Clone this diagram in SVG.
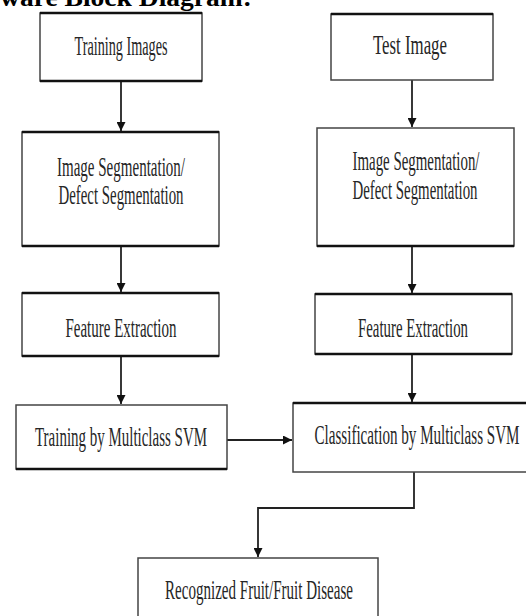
<svg xmlns="http://www.w3.org/2000/svg" width="526" height="616" viewBox="0 0 526 616">
<defs>
<style>
.box{fill:#fff;stroke:#444;stroke-width:1.5}
.edge{stroke:#111;stroke-width:2.5}
.conn{fill:none;stroke:#222;stroke-width:1.8}
</style>
<marker id="ah" viewBox="0 0 10 10" refX="10" refY="5" markerWidth="5" markerHeight="5" markerUnits="strokeWidth" orient="auto">
<path d="M0,0 L10,5 L0,10 Z" fill="#111"/>
</marker>
</defs>
<rect width="526" height="616" fill="#fff"/>
<text x="0" y="6" font-family="Liberation Serif, serif" font-size="26" font-weight="bold" fill="#000" textLength="252" lengthAdjust="spacingAndGlyphs">ware Block Diagram:</text>

<g id="connectors">
<line class="conn" x1="121" y1="81" x2="121" y2="131" marker-end="url(#ah)"/>
<line class="conn" x1="121" y1="246" x2="121" y2="292" marker-end="url(#ah)"/>
<line class="conn" x1="121" y1="356" x2="121" y2="404" marker-end="url(#ah)"/>
<line class="conn" x1="412" y1="80" x2="412" y2="127" marker-end="url(#ah)"/>
<line class="conn" x1="412" y1="246" x2="412" y2="293" marker-end="url(#ah)"/>
<line class="conn" x1="412" y1="354" x2="412" y2="402" marker-end="url(#ah)"/>
<line class="conn" x1="227" y1="440" x2="292" y2="440" stroke-width="2.5" marker-end="url(#ah)"/>
<polyline class="conn" points="414,472 414,508 258,508 258,557" marker-end="url(#ah)"/>
</g>

<g font-family="Liberation Serif, serif" font-size="28" fill="#262626" text-anchor="middle">
<g id="training-images">
<rect class="box" x="40" y="13" width="162" height="68"/>
<line class="edge" x1="40" y1="13" x2="202" y2="13"/><line class="edge" x1="40" y1="81" x2="202" y2="81"/>
<text x="121" y="55" textLength="93" lengthAdjust="spacingAndGlyphs">Training Images</text>
</g>
<g id="test-image">
<rect class="box" x="331" y="14" width="162" height="66"/>
<line class="edge" x1="331" y1="14" x2="493" y2="14"/>
<text x="410" y="54" textLength="74" lengthAdjust="spacingAndGlyphs">Test Image</text>
</g>

<g id="seg-left">
<rect class="box" x="22" y="132" width="197" height="114"/>
<line class="edge" x1="22" y1="132" x2="219" y2="132"/><line class="edge" x1="22" y1="246" x2="219" y2="246"/>
<text x="121" y="176" textLength="128" lengthAdjust="spacingAndGlyphs">Image Segmentation/</text>
<text x="121" y="204" textLength="125" lengthAdjust="spacingAndGlyphs">Defect Segmentation</text>
</g>
<g id="seg-right">
<rect class="box" x="317" y="128" width="197" height="118"/>
<line class="edge" x1="317" y1="246" x2="514" y2="246"/>
<text x="416" y="170" textLength="127" lengthAdjust="spacingAndGlyphs">Image Segmentation/</text>
<text x="415" y="199" textLength="125" lengthAdjust="spacingAndGlyphs">Defect Segmentation</text>
</g>

<g id="feat-left">
<rect class="box" x="22" y="293" width="197" height="63"/>
<line class="edge" x1="22" y1="293" x2="219" y2="293"/><line class="edge" x1="22" y1="356" x2="219" y2="356"/>
<text x="121" y="337" textLength="111" lengthAdjust="spacingAndGlyphs">Feature Extraction</text>
</g>
<g id="feat-right">
<rect class="box" x="315" y="294" width="197" height="60"/>
<line class="edge" x1="315" y1="294" x2="512" y2="294"/><line class="edge" x1="315" y1="354" x2="512" y2="354"/>
<text x="413" y="337" textLength="110" lengthAdjust="spacingAndGlyphs">Feature Extraction</text>
</g>

<g id="train-svm">
<rect class="box" x="16" y="405" width="211" height="64"/>
<line class="edge" x1="16" y1="469" x2="227" y2="469"/>
<text x="121" y="446" textLength="172" lengthAdjust="spacingAndGlyphs">Training by Multiclass SVM</text>
</g>
<g id="classify-svm">
<rect class="box" x="293" y="403" width="240" height="69"/>
<line class="edge" x1="293" y1="403" x2="533" y2="403"/>
<text x="417" y="444" textLength="205" lengthAdjust="spacingAndGlyphs">Classification by Multiclass SVM</text>
</g>

<g id="recognized">
<rect class="box" x="138" y="558" width="240" height="70"/>
<text x="259" y="599" textLength="188" lengthAdjust="spacingAndGlyphs">Recognized Fruit/Fruit Disease</text>
</g>
</g>
</svg>
